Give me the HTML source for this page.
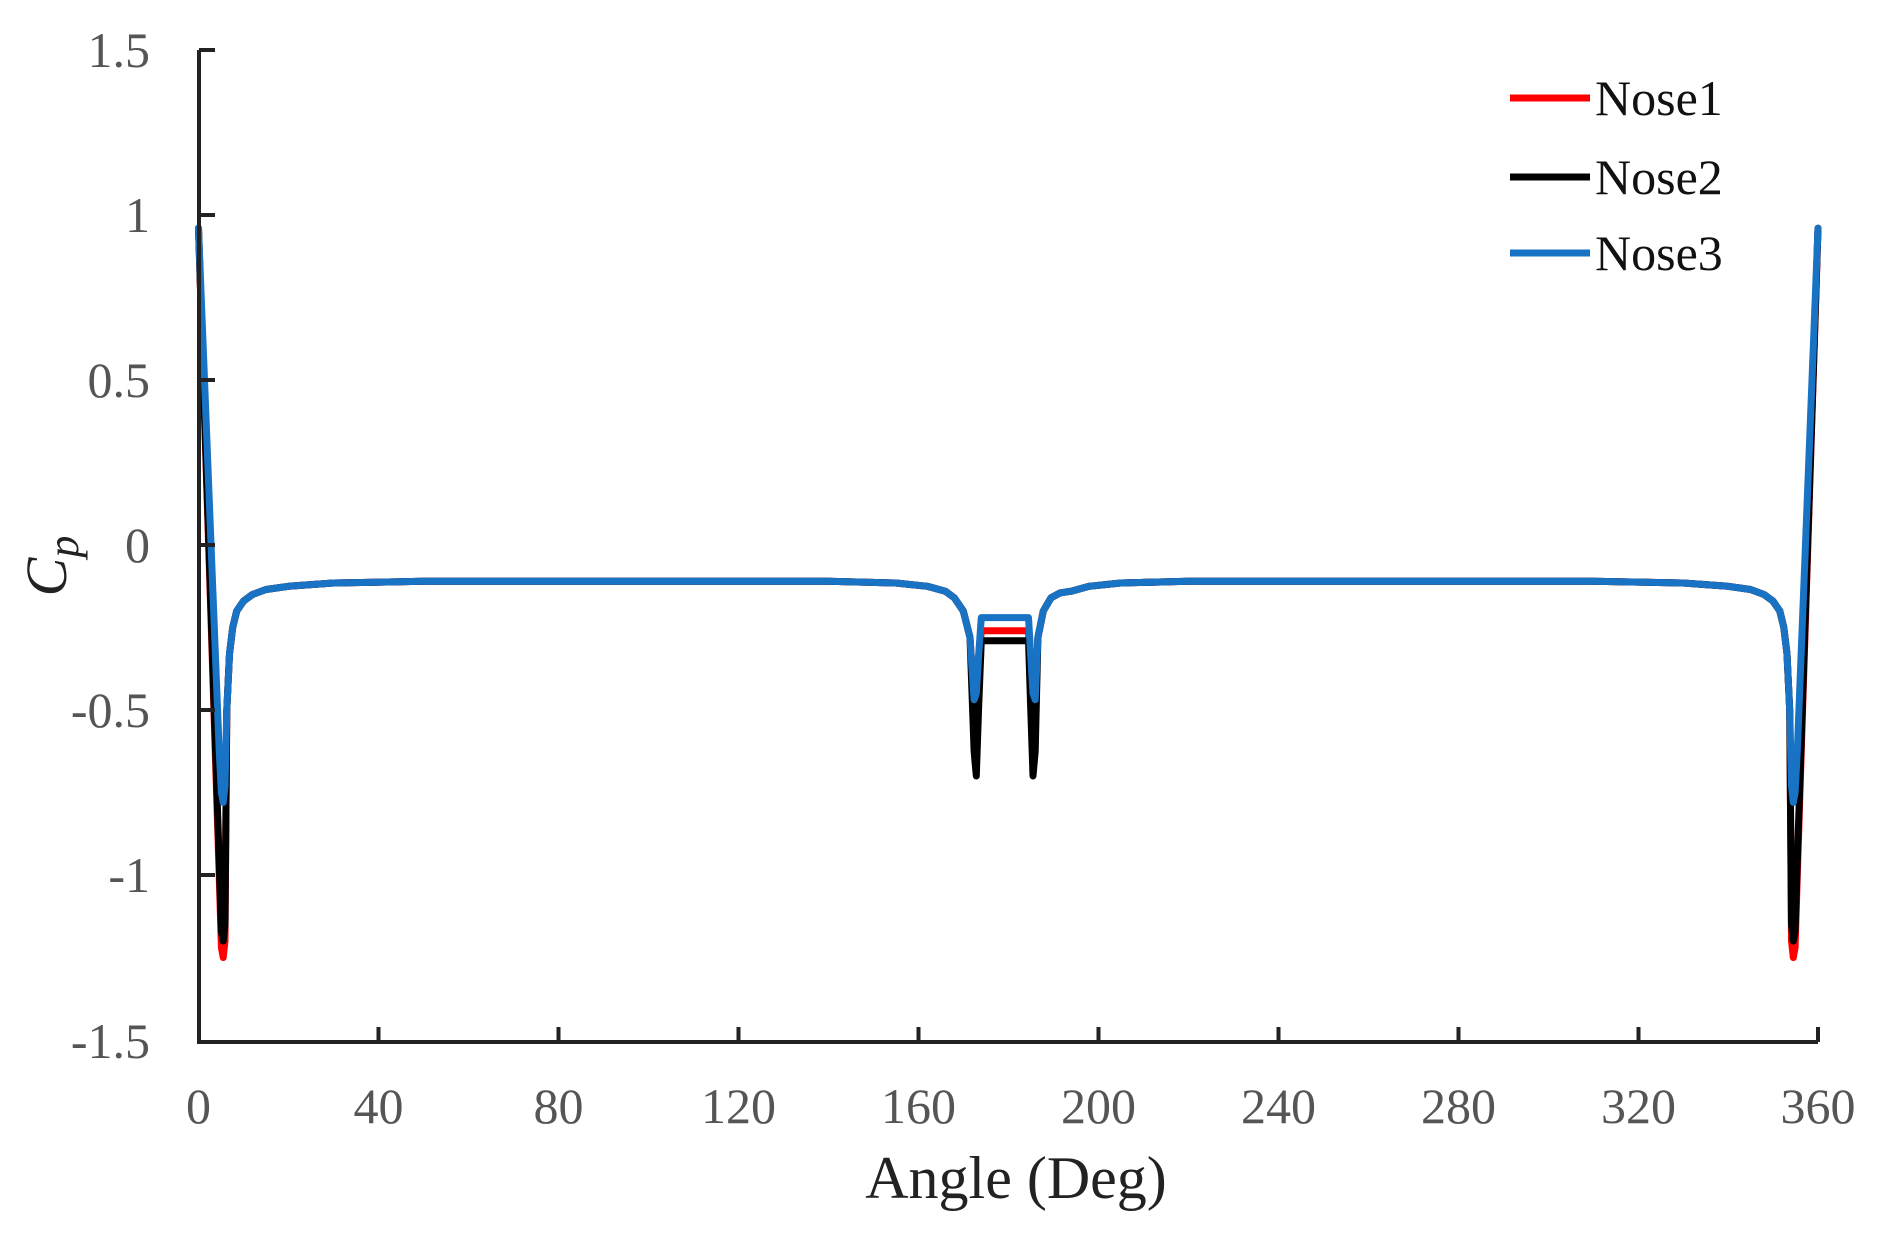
<!DOCTYPE html>
<html><head><meta charset="utf-8"><style>
body{margin:0;background:#fff}
svg{display:block}
</style></head><body>
<svg id="s" width="1888" height="1236" xmlns="http://www.w3.org/2000/svg" font-family="'Liberation Serif',serif">
<g id="curves" fill="none" stroke-width="7" stroke-linejoin="round" stroke-linecap="round"></g>
<g stroke="#222" stroke-width="4" fill="none">
<path d="M199 50 V1042 H1818"/>
<path d="M199 50h16M199 215h16M199 380h16M199 545h16M199 710h16M199 875h16"/>
<path d="M378.5 1042v-15M558.5 1042v-15M738.5 1042v-15M918.5 1042v-15M1098.5 1042v-15M1278.5 1042v-15M1458.5 1042v-15M1638.5 1042v-15M1818 1042v-15"/>
</g>
<g font-size="50" fill="#555" text-anchor="end">
<text x="150" y="67">1.5</text><text x="150" y="232">1</text><text x="150" y="397">0.5</text>
<text x="150" y="562">0</text><text x="150" y="727">-0.5</text><text x="150" y="892">-1</text><text x="150" y="1058">-1.5</text>
</g>
<g font-size="50" fill="#555" text-anchor="middle">
<text x="198.5" y="1123">0</text><text x="378.5" y="1123">40</text><text x="558.5" y="1123">80</text>
<text x="738.5" y="1123">120</text><text x="918.5" y="1123">160</text><text x="1098.5" y="1123">200</text>
<text x="1278.5" y="1123">240</text><text x="1458.5" y="1123">280</text><text x="1638.5" y="1123">320</text><text x="1818" y="1123">360</text>
</g>
<text x="1016" y="1198" font-size="60" text-anchor="middle" fill="#222">Angle (Deg)</text>
<text transform="translate(66,566) rotate(-90)" font-size="58" font-style="italic" text-anchor="middle" fill="#222">C<tspan font-size="44" dy="12">p</tspan></text>
<g stroke-width="7">
<line x1="1510" y1="98" x2="1590" y2="98" stroke="#ff0000"/>
<line x1="1510" y1="177" x2="1590" y2="177" stroke="#000"/>
<line x1="1510" y1="253" x2="1590" y2="253" stroke="#1873c4"/>
</g>
<g font-size="50" fill="#111">
<text x="1595" y="115">Nose1</text><text x="1595" y="194">Nose2</text><text x="1595" y="270">Nose3</text>
</g>
</svg>
<script>
function X(a){return 198.5+a*4.4986;}
function Y(v){return 545-v*330;}
function side(min){return [[0,0.96],[4.6,min*0.8],[5.1,min+0.03],[5.5,min],[5.9,min+0.05],[6.3,-0.5],[6.9,-0.33],[7.6,-0.25],[8.5,-0.2],[10,-0.17],[12,-0.15],[15,-0.135],[20,-0.125],[30,-0.115],[50,-0.11],[140,-0.11],[155,-0.115],[162,-0.125],[166,-0.14]];}
function build(min,center){
 var L=side(min);
 var R=side(min).map(function(p){return [360-p[0],p[1]];}).reverse();
 var pts=L.concat(center).concat(R);
 return 'M'+pts.map(function(p){return X(p[0]).toFixed(1)+' '+Y(p[1]).toFixed(1);}).join(' L');
}
function cen(pl,d1,d2){return [[168,-0.16],[170,-0.2],[171.5,-0.28],[172.4,(d1-0.3)/1.6],[172.9,d1],[173.4,(d1+pl)/2],[174,pl],[184.5,pl],[185,(d2+pl)/2],[185.5,d2],[186,(d2-0.3)/1.6],[186.6,-0.28],[187.8,-0.2],[189.5,-0.16],[191.5,-0.145]];}
var g=document.getElementById('curves');
var ser=[['#ff0000',-1.25,cen(-0.26,-0.45,-0.55)],['#000000',-1.2,cen(-0.29,-0.7,-0.7)],['#1873c4',-0.78,cen(-0.22,-0.45,-0.45)]];
ser.forEach(function(s){
 var p=document.createElementNS('http://www.w3.org/2000/svg','path');
 p.setAttribute('d',build(s[1],s[2]));p.setAttribute('stroke',s[0]);g.appendChild(p);
});
</script>
</body></html>
